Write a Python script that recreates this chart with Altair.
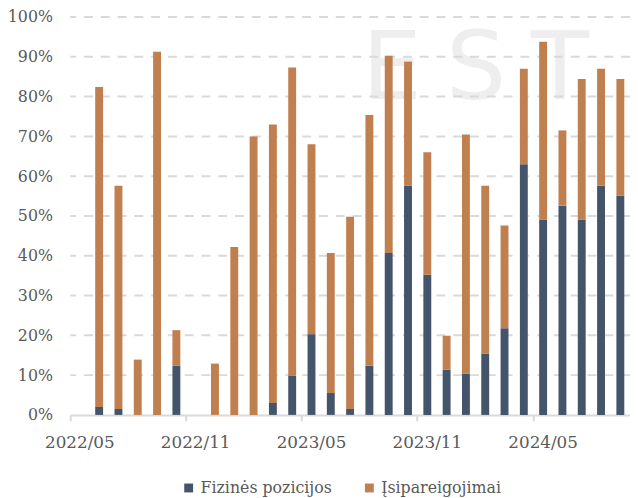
import altair as alt
import pandas as pd

months = ["2022/05", "2022/06", "2022/07", "2022/08", "2022/09", "2022/10",
          "2022/11", "2022/12", "2023/01", "2023/02", "2023/03", "2023/04",
          "2023/05", "2023/06", "2023/07", "2023/08", "2023/09", "2023/10",
          "2023/11", "2023/12", "2024/01", "2024/02", "2024/03", "2024/04",
          "2024/05", "2024/06", "2024/07", "2024/08", "2024/09"]
fizines = [0, 2, 1.5, 0, 0, 12.4, 0, 0, 0, 0, 3, 9.9, 20.3, 5.5, 1.5, 12.4,
           40.7, 57.6, 35.2, 11.4, 10.4, 15.4, 21.8, 63, 49.1, 52.6, 49.1, 57.6, 55.1]
isipareigojimai = [0, 80.4, 56.1, 13.9, 91.3, 8.9, 0, 12.9, 42.2, 70, 70, 77.4,
                   47.7, 35.2, 48.3, 63, 49.6, 31.2, 30.8, 8.5, 60.1, 42.2, 25.8,
                   24, 44.7, 18.9, 35.3, 29.4, 29.3]
series = ["Fizinės pozicijos", "Įsipareigojimai"]
colors = ["#44546a", "#c07f4e"]
tick_months = ["2022/05", "2022/11", "2023/05", "2023/11", "2024/05"]
y_ticks = [0, 10, 20, 30, 40, 50, 60, 70, 80, 90, 100]
grid_vals = [10, 20, 30, 40, 50, 60, 70, 80, 90, 100]

rows = []
for m, f, i in zip(months, fizines, isipareigojimai):
    rows.append({"month": m, "series": series[0], "value": f, "ord": 0})
    rows.append({"month": m, "series": series[1], "value": i, "ord": 1})
df = pd.DataFrame(rows)

W, H = 567, 403
FONT = "DejaVu Serif"
TXT = "#595959"

x_enc = alt.X("month:N", sort=months, title=None,
              scale=alt.Scale(domain=months, paddingInner=0, paddingOuter=0),
              axis=alt.Axis(values=tick_months, labelAngle=0, bandPosition=0,
                            labelOffset=0, tickSize=6,
                            tickColor="#d9d9d9", tickWidth=2, domainColor="#d9d9d9",
                            domainWidth=2, grid=False, labelPadding=14,
                            labelFont=FONT, labelFontSize=17, labelColor=TXT))

y_scale = alt.Scale(domain=[0, 100], nice=False)

def letter(ch, xpos):
    return alt.Chart(alt.Data(values=[{}])).mark_text(
        text=ch, font="DejaVu Sans", fontSize=96, color="#eeeeee",
        align="center", baseline="alphabetic").encode(
        x=alt.value(xpos), y=alt.value(83))

grid = alt.Chart(pd.DataFrame({"g": grid_vals})).mark_rule(
    color="#d9d9d9", strokeWidth=2, strokeDash=[9, 8]).encode(
    y=alt.Y("g:Q", scale=y_scale))

bars = alt.Chart(df).mark_bar(size=8).encode(
    x=x_enc,
    y=alt.Y("value:Q", stack="zero", scale=y_scale, title=None,
            axis=alt.Axis(values=y_ticks, labelExpr="datum.value + '%'",
                          grid=False, ticks=False, domain=False, labelPadding=18,
                          labelFont=FONT, labelFontSize=16, labelColor=TXT)),
    color=alt.Color("series:N", scale=alt.Scale(domain=series, range=colors),
                    legend=alt.Legend(title=None, orient="none", direction="horizontal",
                                      legendX=112, legendY=469, symbolType="square",
                                      symbolSize=81, symbolStrokeWidth=0,
                                      labelFont=FONT, labelFontSize=16,
                                      labelColor=TXT, labelOffset=4,
                                      columnPadding=29, padding=0)),
    order=alt.Order("ord:Q"),
)

chart = alt.layer(
    letter("E", 326), letter("S", 411), letter("T", 496), grid, bars
).properties(
    width=W, height=H,
    autosize=alt.AutoSizeParams(type="none"),
    padding={"left": 63, "top": 6, "right": 0, "bottom": 81},
).configure_view(stroke=None)

chart.save("out.html", embed_options={"renderer": "svg", "actions": False})
